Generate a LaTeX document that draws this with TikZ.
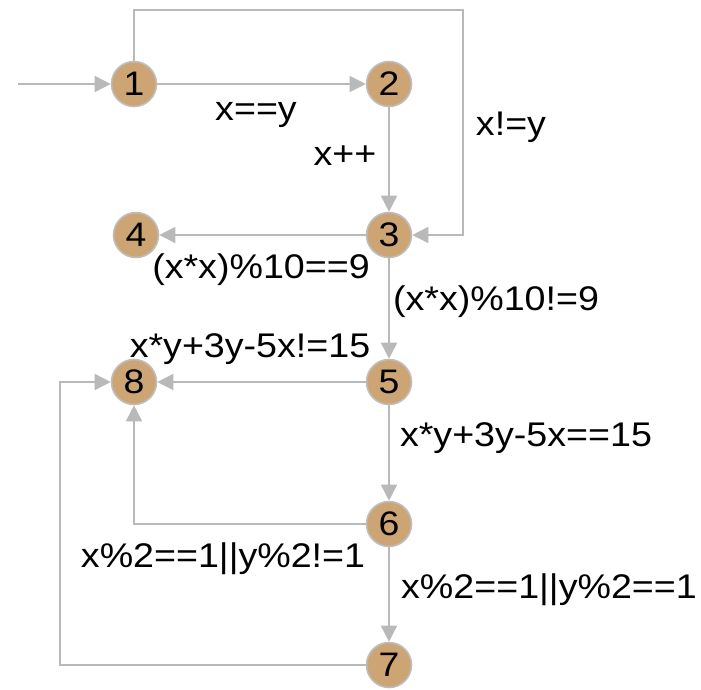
\documentclass[tikz,border=0pt]{standalone}
\usepackage{fontspec}
\setmainfont[FakeStretch=1.1]{Liberation Sans}
\usetikzlibrary{arrows.meta}
\definecolor{nodefill}{RGB}{205,164,116}
\definecolor{nodeline}{RGB}{190,190,190}
\definecolor{edgecol}{RGB}{185,185,185}
\begin{document}
\begin{tikzpicture}[x=1pt,y=-1pt,
  state/.style={circle, fill=nodefill, draw=nodeline, line width=1.6pt, minimum size=45pt, inner sep=0pt, font=\fontsize{34}{38}\selectfont},
  lbl/.style={anchor=base, inner sep=0pt, font=\fontsize{34.2}{40}\selectfont},
  edge/.style={draw=edgecol, line width=1.6pt, -{Triangle[length=16pt,width=16pt]}}]
\useasboundingbox (0,0) rectangle (701,689);
\node[state] (n1) at (134,84) {1};
\node[state] (n2) at (389,84) {2};
\node[state] (n3) at (389,235) {3};
\node[state] (n4) at (136,235) {4};
\node[state] (n5) at (389,382) {5};
\node[state] (n8) at (134,382) {8};
\node[state] (n6) at (389,524) {6};
\node[state] (n7) at (389,665) {7};
\coordinate (s) at (18,84);
\coordinate (c1) at (463,10);
\coordinate (c2) at (60,382);
\draw[edge] (s) -- (n1);
\draw[edge] (n1) -- (n2);
\draw[edge] (n2) -- (n3);
\draw[edge] (n1) |- (c1) |- (n3);
\draw[edge] (n3) -- (n4);
\draw[edge] (n3) -- (n5);
\draw[edge] (n5) -- (n8);
\draw[edge] (n5) -- (n6);
\draw[edge] (n6) -| (n8);
\draw[edge] (n6) -- (n7);
\draw[edge] (n7) -| (c2) -- (n8);
\node[lbl] (l12) at (256,120) {x==y};
\node[lbl] (l23) at (345,165) {x++};
\node[lbl] (l13) at (511,135) {x!=y};
\node[lbl] (l34) at (261,278) {(x*x)\%10==9};
\node[lbl] (l35) at (496,310) {(x*x)\%10!=9};
\node[lbl] (l58) at (250,357) {x*y+3y-5x!=15};
\node[lbl] (l56) at (526,446) {x*y+3y-5x==15};
\node[lbl] (l68) at (223,567) {x\%2==1||y\%2!=1};
\node[lbl] (l67) at (549,598) {x\%2==1||y\%2==1};
\end{tikzpicture}
\end{document}
